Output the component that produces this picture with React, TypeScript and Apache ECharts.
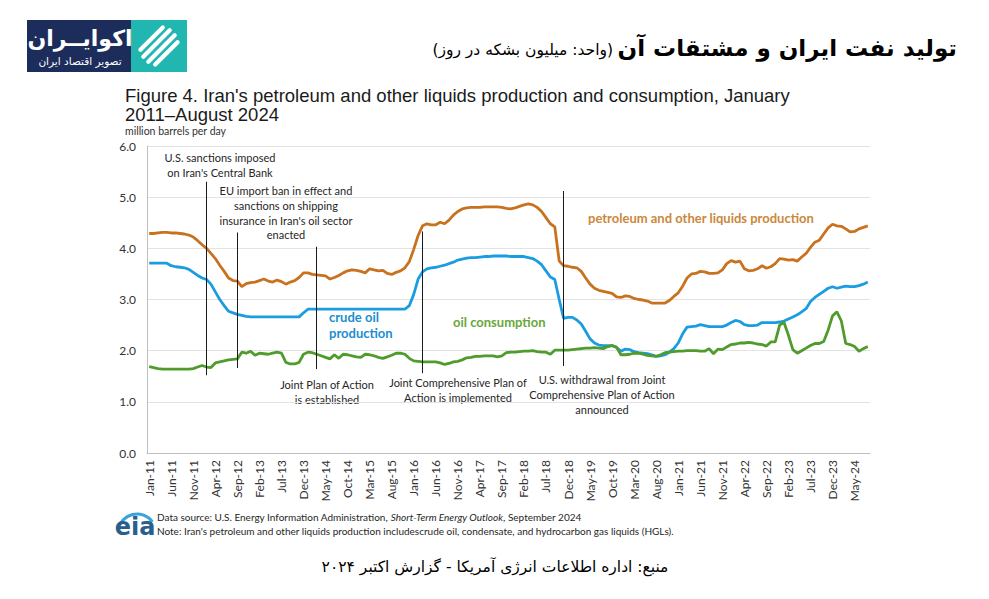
import React, { useEffect, useRef } from "react";
import * as echarts from "echarts";

// ---------- data ----------
const monthNames = ["Jan", "Feb", "Mar", "Apr", "May", "Jun", "Jul", "Aug", "Sep", "Oct", "Nov", "Dec"];
const categories: string[] = [];
for (let y = 11; y <= 24; y++) {
  for (let m = 0; m < 12; m++) {
    if (y === 24 && m > 7) break;
    categories.push(`${monthNames[m]}-${y}`);
  }
}

const yTicks = ["0.0", "1.0", "2.0", "3.0", "4.0", "5.0", "6.0"];

const petroleumProduction = [
  4.29, 4.29, 4.30, 4.31, 4.31, 4.30, 4.30, 4.29, 4.28, 4.26, 4.22, 4.15,
  4.07, 4.00, 3.90, 3.80, 3.67, 3.55, 3.42, 3.37, 3.36, 3.25, 3.31, 3.33,
  3.34, 3.37, 3.40, 3.36, 3.34, 3.38, 3.35, 3.30, 3.34, 3.37, 3.43, 3.52,
  3.52, 3.49, 3.48, 3.47, 3.46, 3.40, 3.43, 3.47, 3.52, 3.56, 3.58, 3.57,
  3.55, 3.52, 3.60, 3.58, 3.56, 3.57, 3.51, 3.49, 3.53, 3.56, 3.62, 3.74,
  3.98, 4.25, 4.44, 4.48, 4.46, 4.46, 4.51, 4.48, 4.55, 4.65, 4.72, 4.77,
  4.79, 4.80, 4.80, 4.80, 4.81, 4.81, 4.81, 4.81, 4.80, 4.78, 4.77, 4.79,
  4.82, 4.85, 4.87, 4.85, 4.80, 4.72, 4.60, 4.48, 4.42, 3.75, 3.66, 3.65,
  3.63, 3.62, 3.55, 3.42, 3.30, 3.22, 3.18, 3.16, 3.14, 3.12, 3.05, 3.04,
  3.07, 3.06, 3.02, 3.00, 2.99, 2.97, 2.93, 2.93, 2.93, 2.93, 2.98, 3.06,
  3.13, 3.26, 3.42, 3.50, 3.51, 3.55, 3.54, 3.51, 3.51, 3.52, 3.58, 3.70,
  3.76, 3.73, 3.75, 3.60, 3.56, 3.57, 3.60, 3.66, 3.61, 3.64, 3.70, 3.80,
  3.79, 3.77, 3.78, 3.75, 3.83, 3.90, 4.02, 4.12, 4.16, 4.28, 4.40, 4.47,
  4.44, 4.43, 4.38, 4.32, 4.33, 4.38, 4.41, 4.44,
];

const crudeProduction = [
  3.71, 3.71, 3.71, 3.71, 3.71, 3.66, 3.64, 3.63, 3.62, 3.59, 3.53, 3.47,
  3.42, 3.39, 3.30, 3.15, 3.00, 2.88, 2.77, 2.74, 2.71, 2.69, 2.67, 2.66,
  2.66, 2.66, 2.66, 2.66, 2.66, 2.66, 2.66, 2.66, 2.66, 2.66, 2.66, 2.74,
  2.81, 2.81, 2.81, 2.81, 2.81, 2.81, 2.81, 2.81, 2.81, 2.81, 2.81, 2.81,
  2.81, 2.81, 2.81, 2.81, 2.81, 2.81, 2.81, 2.81, 2.81, 2.81, 2.81, 2.88,
  3.10, 3.40, 3.54, 3.60, 3.62, 3.63, 3.65, 3.67, 3.70, 3.73, 3.77, 3.79,
  3.81, 3.82, 3.82, 3.83, 3.84, 3.84, 3.85, 3.85, 3.85, 3.85, 3.84, 3.84,
  3.84, 3.84, 3.82, 3.80, 3.75, 3.68, 3.56, 3.44, 3.39, 3.00, 2.63, 2.65,
  2.65, 2.60, 2.52, 2.38, 2.23, 2.15, 2.11, 2.10, 2.10, 2.10, 2.06, 1.99,
  2.03, 2.02, 1.98, 1.96, 1.95, 1.94, 1.92, 1.89, 1.90, 1.92, 1.97, 2.04,
  2.15, 2.33, 2.46, 2.47, 2.48, 2.51, 2.49, 2.47, 2.47, 2.47, 2.47, 2.50,
  2.55, 2.59, 2.57, 2.51, 2.49, 2.49, 2.50, 2.55, 2.55, 2.55, 2.55, 2.56,
  2.58, 2.62, 2.66, 2.70, 2.76, 2.82, 2.96, 3.04, 3.10, 3.16, 3.22, 3.25,
  3.22, 3.24, 3.26, 3.25, 3.25, 3.27, 3.30, 3.34,
];

const oilConsumption = [
  1.69, 1.67, 1.65, 1.64, 1.64, 1.64, 1.64, 1.64, 1.64, 1.64, 1.65, 1.68,
  1.71, 1.68, 1.67, 1.76, 1.78, 1.80, 1.82, 1.83, 1.84, 1.97, 1.95, 1.99,
  1.91, 1.95, 1.94, 1.93, 1.95, 1.97, 1.95, 1.77, 1.74, 1.74, 1.77, 1.93,
  1.97, 1.96, 1.93, 1.90, 1.87, 1.84, 1.92, 1.85, 1.93, 1.92, 1.90, 1.88,
  1.87, 1.93, 1.92, 1.90, 1.87, 1.85, 1.88, 1.91, 1.95, 1.95, 1.93, 1.85,
  1.80, 1.79, 1.78, 1.78, 1.78, 1.78, 1.76, 1.73, 1.75, 1.78, 1.79, 1.82,
  1.86, 1.87, 1.89, 1.89, 1.90, 1.90, 1.90, 1.88, 1.90, 1.96, 1.97, 1.97,
  1.98, 1.99, 1.99, 2.00, 1.98, 1.97, 1.97, 1.93, 2.01, 2.01, 2.01, 2.01,
  2.02, 2.03, 2.04, 2.05, 2.05, 2.06, 2.05, 2.04, 2.08, 2.10, 2.07, 1.92,
  1.92, 1.93, 1.95, 1.95, 1.93, 1.91, 1.90, 1.89, 1.92, 1.96, 1.97, 1.98,
  1.99, 1.99, 2.00, 2.00, 2.00, 1.99, 1.99, 2.04, 1.94, 2.03, 2.02, 2.07,
  2.12, 2.13, 2.15, 2.15, 2.16, 2.15, 2.13, 2.12, 2.09, 2.17, 2.17, 2.50,
  2.55, 2.30, 2.02, 1.95, 2.00, 2.05, 2.10, 2.14, 2.14, 2.18, 2.40, 2.68,
  2.76, 2.58, 2.14, 2.12, 2.08, 1.99, 2.04, 2.08,
];

// annotation event lines: [category index, top value, bottom value]
const eventIndex = [13, 20, 38, 62, 94];
const eventTop = [5.3, 4.31, 4.03, 4.33, 5.12];
const eventBottom = [1.52, 1.66, 1.64, 1.56, 1.7];

// ---------- styles ----------
const ORANGE = "#c8721f";
const BLUE = "#1a9de0";
const GREEN = "#4f9b2c";
const LATO = "Lato, 'Open Sans', sans-serif";
const NARROW = "'Liberation Sans Narrow', 'Liberation Sans', Arial, sans-serif";
const FA = "'DejaVu Sans', 'Noto Sans', sans-serif";

function txt(text: string, x: number, y: number, o: any = {}) {
  return {
    type: "text",
    x,
    y,
    silent: true,
    style: {
      text,
      fill: o.fill || "#262626",
      fontSize: o.fontSize || 11,
      fontFamily: o.fontFamily || LATO,
      fontWeight: o.fontWeight || "normal",
      fontStyle: o.fontStyle || "normal",
      textAlign: o.align || "center",
      textVerticalAlign: "middle",
      rich: o.rich,
    },
  };
}

const stripes = [
  [162.8, 27.4, 140.4, 49.8],
  [169.7, 30.3, 143.3, 56.7],
  [174.7, 35.3, 148.3, 61.7],
  [177.6, 42.2, 155.2, 64.6],
];

export default function App() {
  const ref = useRef<HTMLDivElement>(null);

  useEffect(() => {
    if (!ref.current) return;
    const chart = echarts.init(ref.current, null, { renderer: "svg" });

    const markData = eventIndex.map((idx, k) => [
      { coord: [categories[idx], eventTop[k]] },
      { coord: [categories[idx], eventBottom[k]] },
    ]);

    const graphics: any[] = [
      // logo
      { type: "rect", silent: true, shape: { x: 27, y: 20, width: 104, height: 52 }, style: { fill: "#1c2c5b" } },
      { type: "rect", silent: true, shape: { x: 131, y: 20, width: 56, height: 52 }, style: { fill: "#22b6b1" } },
      ...stripes.map((s) => ({
        type: "line",
        silent: true,
        shape: { x1: s[0], y1: s[1], x2: s[2], y2: s[3] },
        style: { stroke: "#ffffff", lineWidth: 4.2, lineCap: "round" },
      })),
      txt("اکوایــران", 80, 38, { fill: "#ffffff", fontSize: 22, fontWeight: "bold", fontFamily: FA }),
      txt("تصویر اقتصاد ایران", 80, 61, { fill: "#ffffff", fontSize: 10.5, fontFamily: FA }),
      // Persian header
      txt("تولید نفت ایران و مشتقات آن", 957, 48, { fill: "#000000", fontSize: 23, fontWeight: "bold", fontFamily: FA, align: "right" }),
      txt("\u202B(واحد: میلیون بشکه در روز)\u202C", 613, 50, { fill: "#000000", fontSize: 15.5, fontFamily: FA, align: "right" }),
      // EIA title
      txt("Figure 4. Iran's petroleum and other liquids production and consumption, January", 125, 95, { fill: "#1a1a1a", fontSize: 18.5, fontFamily: NARROW, align: "left" }),
      txt("2011–August 2024", 125, 114, { fill: "#1a1a1a", fontSize: 18.5, fontFamily: NARROW, align: "left" }),
      txt("million barrels per day", 125, 131, { fill: "#333333", fontSize: 10.5, align: "left" }),
      // annotations
      txt("U.S. sanctions imposed", 220, 157, {}),
      txt("on Iran's Central Bank", 220, 172, {}),
      txt("EU import ban in effect and", 286, 190, {}),
      txt("sanctions on shipping", 286, 205, {}),
      txt("insurance in Iran's oil sector", 286, 220, {}),
      txt("enacted", 286, 234, {}),
      txt("Joint Plan of Action", 327, 384, {}),
      txt("is established", 327, 399, {}),
      txt("Joint Comprehensive Plan of", 458, 382, {}),
      txt("Action is implemented", 458, 397, {}),
      txt("U.S. withdrawal from Joint", 602, 379, {}),
      txt("Comprehensive Plan of Action", 602, 394, {}),
      txt("announced", 602, 409, {}),
      // series labels
      txt("crude oil", 329, 317, { fill: "#1b8ed0", fontSize: 13, fontWeight: "bold", align: "left" }),
      txt("production", 329, 333, { fill: "#1b8ed0", fontSize: 13, fontWeight: "bold", align: "left" }),
      txt("oil consumption", 453, 322, { fill: "#67a83c", fontSize: 13, fontWeight: "bold", align: "left" }),
      txt("petroleum and other liquids production", 588, 218, { fill: "#cc873c", fontSize: 13, fontWeight: "bold", align: "left" }),
      // eia logo
      {
        type: "arc",
        silent: true,
        shape: { cx: 137, cy: 533, r: 19, startAngle: Math.PI * 1.05, endAngle: Math.PI * 1.8 },
        style: { stroke: "#3aa3dc", lineWidth: 3, fill: "none" },
      },
      txt("eia", 135, 527, { fill: "#2a5f8d", fontSize: 24, fontWeight: "bold", fontFamily: "'DejaVu Sans', sans-serif" }),
      // notes
      txt("Data source: U.S. Energy Information Administration, {i|Short-Term Energy Outlook}, September 2024", 157, 517, {
        fontSize: 10,
        align: "left",
        rich: { i: { fontStyle: "italic", fontSize: 10, fontFamily: LATO, fill: "#262626" } },
      }),
      txt("Note: Iran's petroleum and other liquids production includescrude oil, condensate, and hydrocarbon gas liquids (HGLs).", 157, 531, {
        fontSize: 10,
        align: "left",
      }),
      // Persian source
      txt("منبع: اداره اطلاعات انرژی آمریکا - گزارش اکتبر ۲۰۲۴", 495, 567, { fill: "#000000", fontSize: 15.5, fontFamily: FA }),
    ];

    chart.setOption({
      animation: false,
      backgroundColor: "#ffffff",
      grid: { left: 147, top: 146, width: 723, height: 307, containLabel: false },
      xAxis: {
        type: "category",
        data: categories,
        boundaryGap: true,
        axisLine: { show: true, lineStyle: { color: "#bfbfbf", width: 1 } },
        axisTick: { show: false },
        axisLabel: {
          interval: 4,
          rotate: 90,
          color: "#333333",
          fontSize: 12,
          fontFamily: LATO,
          margin: 7,
        },
        splitLine: { show: false },
      },
      yAxis: {
        type: "value",
        min: 0,
        max: 6,
        interval: 1,
        axisLine: { show: true, lineStyle: { color: "#bfbfbf", width: 1 } },
        axisTick: { show: false },
        axisLabel: {
          color: "#333333",
          fontSize: 12,
          fontFamily: LATO,
          margin: 11,
          formatter: (v: number) => yTicks[Math.round(v)] ?? v.toFixed(1),
        },
        splitLine: { show: true, lineStyle: { color: "#e3e3e3", width: 1 } },
      },
      series: [
        {
          name: "petroleum and other liquids production",
          type: "line",
          data: petroleumProduction,
          symbol: "none",
          lineStyle: { color: ORANGE, width: 2.8 },
          z: 3,
        },
        {
          name: "crude oil production",
          type: "line",
          data: crudeProduction,
          symbol: "none",
          lineStyle: { color: BLUE, width: 2.8 },
          z: 3,
        },
        {
          name: "oil consumption",
          type: "line",
          data: oilConsumption,
          symbol: "none",
          lineStyle: { color: GREEN, width: 2.8 },
          z: 3,
          markLine: {
            silent: true,
            symbol: ["none", "none"],
            label: { show: false },
            lineStyle: { color: "#1a1a1a", width: 1, type: "solid" },
            data: markData,
            z: 5,
          },
        },
      ],
      graphic: graphics,
    });

    return () => chart.dispose();
  }, []);

  return (
    <div
      ref={ref}
      style={{ position: "absolute", left: 0, top: 0, width: 989, height: 599, background: "#ffffff" }}
    />
  );
}
